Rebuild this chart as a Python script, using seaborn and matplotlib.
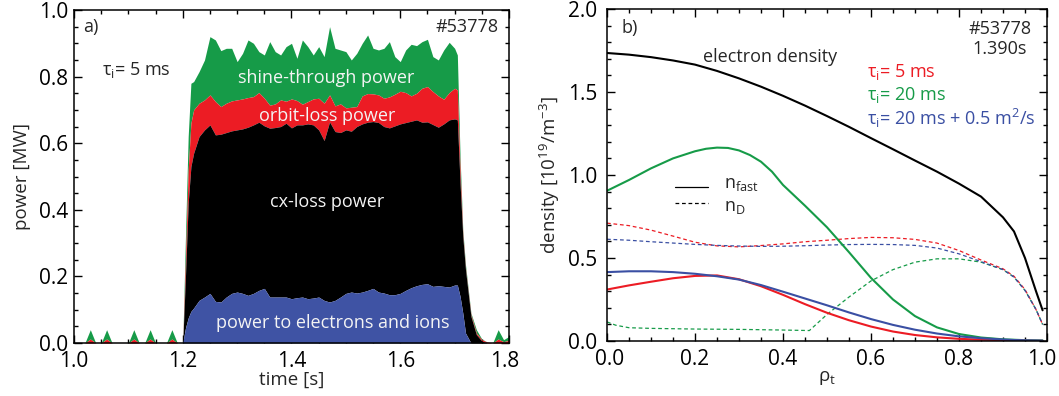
import numpy as np
import pandas as pd
import matplotlib
matplotlib.use("Agg")
import matplotlib.pyplot as plt
import matplotlib.transforms as mtransforms
import seaborn as sns

# ---------------- data: panel a) ----------------
time = [1.00, 1.01, 1.02, 1.03, 1.04, 1.05, 1.06, 1.07, 1.08, 1.09,
        1.10, 1.11, 1.12, 1.13, 1.14, 1.15, 1.16, 1.17, 1.18, 1.19,
        1.200, 1.205, 1.210, 1.215,
        1.22, 1.23, 1.24, 1.25, 1.26, 1.27, 1.28, 1.29, 1.30, 1.31,
        1.32, 1.33, 1.34, 1.35, 1.36, 1.37, 1.38, 1.39, 1.40, 1.41,
        1.42, 1.43, 1.44, 1.45, 1.46, 1.47, 1.48, 1.49, 1.50, 1.51,
        1.52, 1.53, 1.54, 1.55, 1.56, 1.57, 1.58, 1.59, 1.60, 1.61,
        1.62, 1.63, 1.64, 1.65, 1.66, 1.67, 1.68, 1.69, 1.70,
        1.705, 1.710, 1.715, 1.72, 1.73, 1.74, 1.75, 1.76, 1.77, 1.78, 1.79, 1.80]

# upper boundaries of the stacked areas [MW]
electrons_ions_top = [0]*20 + [
    0.0, 0.045, 0.075, 0.095,
    0.105, 0.128, 0.138, 0.149, 0.125, 0.123, 0.138, 0.149, 0.153, 0.149,
    0.143, 0.149, 0.158, 0.164, 0.138, 0.138, 0.138, 0.138, 0.133, 0.136,
    0.138, 0.133, 0.135, 0.138, 0.128, 0.123, 0.128, 0.138, 0.149, 0.153,
    0.150, 0.153, 0.158, 0.164, 0.153, 0.150, 0.145, 0.145, 0.149, 0.158,
    0.166, 0.172, 0.176, 0.178, 0.170, 0.172, 0.170, 0.168, 0.174,
    0.174, 0.140, 0.090, 0.030, 0.0, 0.0, 0.0, 0.0, 0.0, 0.0, 0.0, 0.0]

cx_loss_top = [0]*20 + [
    0.0, 0.20, 0.42, 0.53,
    0.570, 0.620, 0.640, 0.655, 0.625, 0.627, 0.632, 0.637, 0.640, 0.643,
    0.648, 0.655, 0.663, 0.652, 0.645, 0.647, 0.650, 0.660, 0.646, 0.655,
    0.655, 0.658, 0.655, 0.640, 0.608, 0.664, 0.635, 0.632, 0.640, 0.636,
    0.650, 0.658, 0.663, 0.665, 0.662, 0.650, 0.646, 0.652, 0.658, 0.662,
    0.666, 0.670, 0.663, 0.664, 0.656, 0.648, 0.658, 0.670, 0.673,
    0.670, 0.480, 0.320, 0.220, 0.080, 0.025, 0.006, 0.0, 0.0, 0.0, 0.0, 0.0]

orbit_loss_top = [0, 0, 0, 0.012, 0, 0, 0.012, 0, 0, 0,
                  0, 0.012, 0, 0, 0.012, 0, 0, 0, 0.012, 0] + [
    0.0, 0.25, 0.52, 0.66,
    0.700, 0.720, 0.730, 0.745, 0.725, 0.710, 0.720, 0.727, 0.730, 0.733,
    0.737, 0.740, 0.752, 0.735, 0.714, 0.718, 0.730, 0.726, 0.733, 0.728,
    0.717, 0.725, 0.733, 0.735, 0.720, 0.745, 0.712, 0.718, 0.706, 0.708,
    0.710, 0.742, 0.749, 0.748, 0.745, 0.735, 0.739, 0.747, 0.756, 0.752,
    0.742, 0.750, 0.765, 0.770, 0.755, 0.742, 0.732, 0.752, 0.765,
    0.760, 0.520, 0.330, 0.225, 0.085, 0.030, 0.010, 0.003, 0.0, 0.012, 0.004, 0.008]

shine_through_top = [0, 0, 0, 0.04, 0, 0, 0.04, 0, 0, 0,
                     0, 0.04, 0, 0, 0.04, 0, 0, 0, 0.04, 0] + [
    0.0, 0.32, 0.62, 0.78,
    0.785, 0.815, 0.850, 0.920, 0.910, 0.878, 0.885, 0.885, 0.845, 0.870,
    0.910, 0.900, 0.875, 0.865, 0.905, 0.875, 0.865, 0.890, 0.900, 0.855,
    0.910, 0.890, 0.865, 0.890, 0.860, 0.950, 0.885, 0.880, 0.875, 0.850,
    0.870, 0.900, 0.925, 0.885, 0.880, 0.885, 0.905, 0.860, 0.845, 0.880,
    0.897, 0.893, 0.905, 0.912, 0.860, 0.850, 0.880, 0.903, 0.885,
    0.865, 0.560, 0.340, 0.235, 0.090, 0.040, 0.012, 0.003, 0.0, 0.040, 0.010, 0.020]

area_labels = ["power to electrons and ions", "cx-loss power",
               "orbit-loss power", "shine-through power"]

# ---------------- data: panel b) ----------------
rho = [0.0, 0.05, 0.10, 0.15, 0.20, 0.25, 0.30, 0.35, 0.40, 0.45, 0.50,
       0.55, 0.60, 0.65, 0.70, 0.75, 0.80, 0.85, 0.90, 0.925, 0.95, 0.975, 0.99]
n_e = [1.735, 1.725, 1.710, 1.690, 1.665, 1.627, 1.582, 1.532, 1.477, 1.418, 1.355,
       1.290, 1.222, 1.155, 1.087, 1.020, 0.948, 0.870, 0.745, 0.660, 0.500, 0.300, 0.185]
nfast_5ms = [0.310, 0.335, 0.357, 0.378, 0.392, 0.395, 0.372, 0.330, 0.278, 0.222, 0.170,
             0.125, 0.087, 0.057, 0.036, 0.022, 0.013, 0.008, 0.005, 0.003, 0.002, 0.001, 0.001]
rho_nfast_20ms = [0.0, 0.05, 0.10, 0.15, 0.20, 0.225, 0.25, 0.275, 0.30, 0.325, 0.35,
                  0.375, 0.40, 0.45, 0.50, 0.55, 0.60, 0.65, 0.70, 0.75, 0.80, 0.85,
                  0.90, 0.95, 0.99]
nfast_20ms = [0.905, 0.970, 1.040, 1.100, 1.143, 1.158, 1.165, 1.163, 1.148, 1.120, 1.080,
              1.020, 0.940, 0.815, 0.685, 0.535, 0.380, 0.250, 0.150, 0.082, 0.042, 0.021,
              0.010, 0.005, 0.003]
nfast_20ms_D = [0.415, 0.420, 0.420, 0.415, 0.405, 0.390, 0.370, 0.337, 0.297, 0.256, 0.215,
                0.172, 0.132, 0.097, 0.068, 0.045, 0.028, 0.017, 0.009, 0.006, 0.004, 0.003, 0.002]
nD_5ms = [0.710, 0.695, 0.668, 0.632, 0.595, 0.573, 0.567, 0.575, 0.585, 0.598, 0.607,
          0.617, 0.624, 0.622, 0.612, 0.590, 0.545, 0.488, 0.435, 0.390, 0.310, 0.190, 0.100]
nD_20ms_D = [0.613, 0.607, 0.598, 0.590, 0.582, 0.576, 0.572, 0.570, 0.571, 0.574, 0.578,
             0.581, 0.582, 0.581, 0.576, 0.560, 0.525, 0.478, 0.430, 0.385, 0.305, 0.190, 0.100]
rho_nD_20ms = [0.0, 0.02, 0.05, 0.10, 0.20, 0.30, 0.40, 0.46, 0.50, 0.55, 0.60,
               0.65, 0.70, 0.75, 0.80, 0.85, 0.90, 0.925, 0.95, 0.975, 0.99]
nD_20ms = [0.115, 0.095, 0.080, 0.076, 0.072, 0.070, 0.066, 0.063, 0.160, 0.265, 0.362,
           0.430, 0.475, 0.495, 0.495, 0.475, 0.430, 0.385, 0.305, 0.190, 0.100]

case_labels = ["τ$_\\mathregular{i}$= 5 ms", "τ$_\\mathregular{i}$= 20 ms",
               "τ$_\\mathregular{i}$= 20 ms + 0.5 m$^\\mathregular{2}$/s"]

# ---------------- style ----------------
sns.set_theme(style="ticks")
FONT = "Open Sans"
plt.rcParams["font.family"] = [FONT, "DejaVu Sans"]
plt.rcParams["mathtext.default"] = "regular"
plt.rcParams["axes.linewidth"] = 1.1
plt.rcParams["axes.edgecolor"] = "black"
FS = 13
FS_TICK = 15
FS_LAB = 13.5

C_GREEN = "#169B48"
C_RED = "#EC1C24"
C_BLUE_AREA = "#3F53A4"
C_BLUE = "#3A4FA3"
TXT = "#F4F4F4"

fig = plt.figure(figsize=(10.59, 3.96), dpi=100)
W, H = 1059, 396
ax1 = fig.add_axes([74 / W, 1 - 343 / H, (509 - 74) / W, (343 - 10) / H])
ax2 = fig.add_axes([607 / W, 1 - 341 / H, (1047 - 607) / W, (341 - 9) / H])

def style_axis(ax, ypad):
    ax.tick_params(which="both", direction="in", top=True, right=True,
                   labelsize=FS_TICK, colors="black")
    ax.tick_params(which="major", length=6, width=1.0)
    ax.tick_params(which="minor", length=3, width=1.0)
    ax.tick_params(axis="x", which="major", pad=6)
    ax.tick_params(axis="y", which="major", pad=ypad)
    for s in ax.spines.values():
        s.set_visible(True)
        s.set_linewidth(1.1)

def nudge(label, dx_px):
    label.set_transform(label.get_transform() +
                        mtransforms.ScaledTranslation(dx_px / 100, 0, fig.dpi_scale_trans))

# ---------------- panel a) ----------------
t = np.array(time)
zero = np.zeros_like(t)
b1 = np.array(electrons_ions_top)
b2 = np.array(cx_loss_top)
b3 = np.array(orbit_loss_top)
b4 = np.array(shine_through_top)
ax1.fill_between(t, b3, b4, color=C_GREEN, lw=0)
ax1.fill_between(t, b2, b3, color=C_RED, lw=0)
ax1.fill_between(t, b1, b2, color="black", lw=0)
ax1.fill_between(t, zero, b1, color=C_BLUE_AREA, lw=0)

ax1.set_xlim(1.0, 1.8)
ax1.set_ylim(0.0, 1.0)
ax1.set_xticks([1.0, 1.2, 1.4, 1.6, 1.8])
ax1.set_yticks([0.0, 0.2, 0.4, 0.6, 0.8, 1.0])
ax1.xaxis.set_minor_locator(matplotlib.ticker.MultipleLocator(0.05))
ax1.yaxis.set_minor_locator(matplotlib.ticker.MultipleLocator(0.05))
ax1.xaxis.set_major_formatter(matplotlib.ticker.FormatStrFormatter("%.1f"))
ax1.yaxis.set_major_formatter(matplotlib.ticker.FormatStrFormatter("%.1f"))
style_axis(ax1, 4)
ax1.set_xlabel("time [s]", fontsize=FS_LAB, labelpad=-1)
ax1.set_ylabel("power [MW]", fontsize=FS_LAB, labelpad=6)

ax1.text(1.475, 0.060, area_labels[0], color=TXT, fontsize=FS, ha="center", va="center")
ax1.text(1.466, 0.423, area_labels[1], color=TXT, fontsize=FS, ha="center", va="center")
ax1.text(1.466, 0.682, area_labels[2], color=TXT, fontsize=FS, ha="center", va="center")
ax1.text(1.464, 0.796, area_labels[3], color=TXT, fontsize=FS, ha="center", va="center")
ax1.text(0.021, 0.949, "a)", transform=ax1.transAxes, fontsize=FS, ha="left", va="center")
ax1.text(0.975, 0.949, "#53778", transform=ax1.transAxes, fontsize=FS, ha="right", va="center")
ax1.text(0.064, 0.805, case_labels[0], transform=ax1.transAxes, fontsize=FS,
         ha="left", va="baseline")

# ---------------- panel b) ----------------
ls_d = (0, (3.0, 2.2))
sns.lineplot(x=rho_nD_20ms, y=nD_20ms, ax=ax2, color=C_GREEN, lw=0.9, linestyle=ls_d,
             sort=False, estimator=None)
sns.lineplot(x=rho, y=nD_5ms, ax=ax2, color=C_RED, lw=0.9, linestyle=ls_d,
             sort=False, estimator=None)
sns.lineplot(x=rho, y=nD_20ms_D, ax=ax2, color=C_BLUE, lw=0.9, linestyle=ls_d,
             sort=False, estimator=None)
sns.lineplot(x=rho_nfast_20ms, y=nfast_20ms, ax=ax2, color=C_GREEN, lw=1.5,
             sort=False, estimator=None)
sns.lineplot(x=rho, y=nfast_5ms, ax=ax2, color=C_RED, lw=1.5, sort=False, estimator=None)
sns.lineplot(x=rho, y=nfast_20ms_D, ax=ax2, color=C_BLUE, lw=1.5, sort=False, estimator=None)
sns.lineplot(x=rho, y=n_e, ax=ax2, color="black", lw=1.5, sort=False, estimator=None)

ax2.set_xlim(0.0, 1.0)
ax2.set_ylim(0.0, 2.0)
ax2.set_xticks([0.0, 0.2, 0.4, 0.6, 0.8, 1.0])
ax2.set_yticks([0.0, 0.5, 1.0, 1.5, 2.0])
ax2.xaxis.set_minor_locator(matplotlib.ticker.MultipleLocator(0.05))
ax2.yaxis.set_minor_locator(matplotlib.ticker.MultipleLocator(0.1))
ax2.xaxis.set_major_formatter(matplotlib.ticker.FormatStrFormatter("%.1f"))
ax2.yaxis.set_major_formatter(matplotlib.ticker.FormatStrFormatter("%.1f"))
style_axis(ax2, 7)
ax2.set_xlabel("ρ$_\\mathregular{t}$", fontsize=FS_LAB, labelpad=-1)
ax2.set_ylabel("density [10$^\\mathregular{19}$/m$^\\mathregular{-3}$]", fontsize=FS_LAB,
               labelpad=4)

# keep the outermost x tick labels inside the figure, as in the reference
fig.canvas.draw()
xl1 = ax1.get_xticklabels()
nudge(xl1[-1], -4)
xl2 = ax2.get_xticklabels()
nudge(xl2[0], 3)
nudge(xl2[-1], -5)

ax2.text(0.033, 0.943, "b)", transform=ax2.transAxes, fontsize=FS, ha="left", va="center")
ax2.text(0.893, 0.940, "#53778", transform=ax2.transAxes, fontsize=FS, ha="center", va="center")
ax2.text(0.893, 0.880, "1.390s", transform=ax2.transAxes, fontsize=FS, ha="center", va="center")
ax2.text(0.37, 0.855, "electron density", transform=ax2.transAxes, fontsize=FS,
         ha="center", va="center")
ax2.text(0.591, 0.796, case_labels[0], transform=ax2.transAxes, fontsize=FS,
         color=C_RED, ha="left", va="baseline")
ax2.text(0.591, 0.726, case_labels[1], transform=ax2.transAxes, fontsize=FS,
         color=C_GREEN, ha="left", va="baseline")
ax2.text(0.591, 0.651, case_labels[2], transform=ax2.transAxes, fontsize=FS,
         color=C_BLUE, ha="left", va="baseline")

# line-style key
ax2.plot([0.155, 0.230], [0.465, 0.465], transform=ax2.transAxes, color="black", lw=0.9)
ax2.plot([0.155, 0.230], [0.415, 0.415], transform=ax2.transAxes, color="black", lw=0.9,
         linestyle=ls_d)
ax2.text(0.266, 0.460, "n$_\\mathregular{fast}$", transform=ax2.transAxes, fontsize=FS,
         ha="left", va="baseline")
ax2.text(0.266, 0.392, "n$_\\mathregular{D}$", transform=ax2.transAxes, fontsize=FS,
         ha="left", va="baseline")

fig.savefig("out.png", dpi=100)
